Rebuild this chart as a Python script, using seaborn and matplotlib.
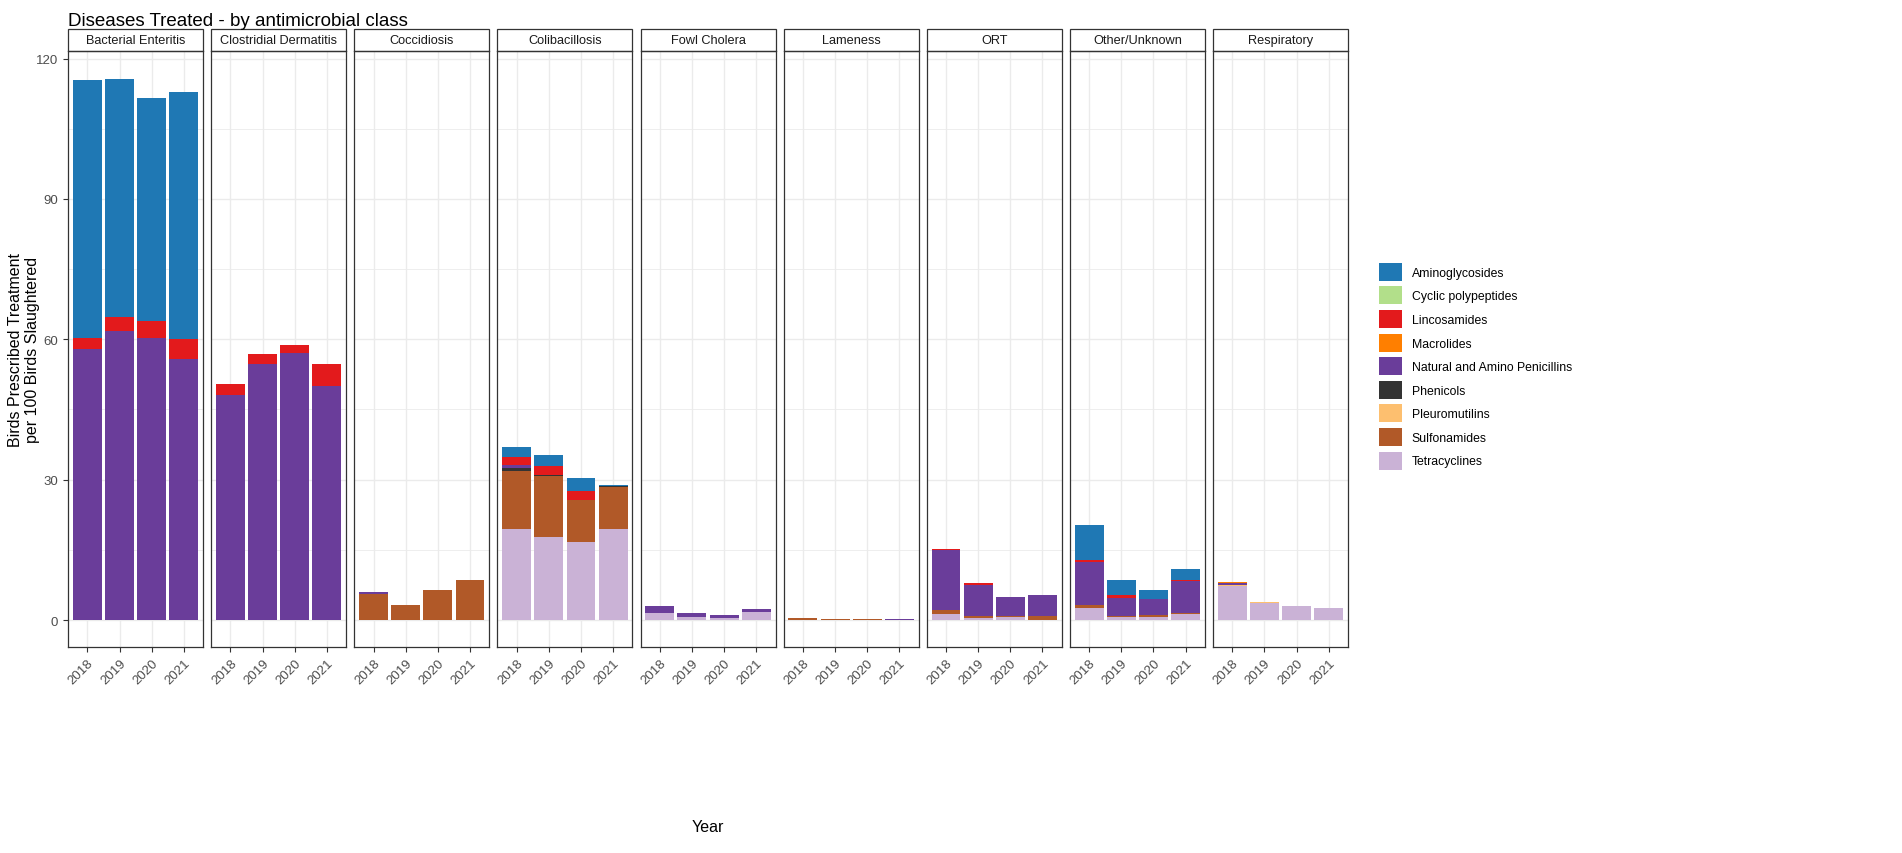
import pandas as pd
import numpy as np
import matplotlib
matplotlib.use("Agg")
import matplotlib.pyplot as plt
from matplotlib.patches import Rectangle, Patch
import seaborn as sns

# ---- data ----
years = [2018, 2019, 2020, 2021]
classes = ['Aminoglycosides', 'Cyclic polypeptides', 'Lincosamides', 'Macrolides',
           'Natural and Amino Penicillins', 'Phenicols', 'Pleuromutilins',
           'Sulfonamides', 'Tetracyclines']
class_colors = ['#1f78b4', '#b2df8a', '#e31a1c', '#ff7f00', '#6a3d9a',
                '#333333', '#fdbf6f', '#b15928', '#cab2d6']
diseases = ['Bacterial Enteritis', 'Clostridial Dermatitis', 'Coccidiosis',
            'Colibacillosis', 'Fowl Cholera', 'Lameness', 'ORT',
            'Other/Unknown', 'Respiratory']

bacterial_enteritis = {
    'Natural and Amino Penicillins': [57.9, 61.7, 60.2, 55.7],
    'Lincosamides': [2.3, 3.0, 3.7, 4.3],
    'Aminoglycosides': [55.3, 51.0, 47.7, 52.8],
}
clostridial_dermatitis = {
    'Natural and Amino Penicillins': [48.0, 54.8, 57.0, 50.0],
    'Lincosamides': [2.5, 2.0, 1.8, 4.8],
}
coccidiosis = {
    'Sulfonamides': [5.6, 3.3, 6.4, 8.6],
    'Natural and Amino Penicillins': [0.3, 0, 0, 0],
}
colibacillosis = {
    'Tetracyclines': [19.5, 17.8, 16.7, 19.5],
    'Sulfonamides': [12.4, 12.9, 8.9, 9.0],
    'Phenicols': [0.6, 0.3, 0, 0.1],
    'Natural and Amino Penicillins': [0.7, 0, 0, 0],
    'Lincosamides': [1.6, 1.9, 2.0, 0],
    'Aminoglycosides': [2.2, 2.3, 2.8, 0.3],
}
fowl_cholera = {
    'Tetracyclines': [1.4, 0.7, 0.4, 1.7],
    'Natural and Amino Penicillins': [1.5, 0.7, 0.6, 0.6],
}
lameness = {
    'Sulfonamides': [0.5, 0.2, 0.2, 0],
    'Natural and Amino Penicillins': [0, 0.1, 0.1, 0.15],
}
ort = {
    'Tetracyclines': [1.3, 0.5, 0.6, 0],
    'Sulfonamides': [0.8, 0.3, 0.2, 0.8],
    'Natural and Amino Penicillins': [12.8, 6.7, 4.1, 4.5],
    'Lincosamides': [0.2, 0.4, 0, 0],
}
other_unknown = {
    'Tetracyclines': [2.6, 0.7, 0.6, 1.3],
    'Sulfonamides': [0.6, 0.2, 0.4, 0.3],
    'Natural and Amino Penicillins': [9.3, 3.8, 3.4, 6.8],
    'Lincosamides': [0.4, 0.6, 0, 0.1],
    'Aminoglycosides': [7.5, 3.3, 2.1, 2.5],
}
respiratory = {
    'Tetracyclines': [7.2, 3.7, 2.9, 2.6],
    'Pleuromutilins': [0.3, 0.2, 0, 0],
    'Natural and Amino Penicillins': [0.4, 0, 0.2, 0],
    'Macrolides': [0.15, 0, 0, 0],
}
disease_data = [bacterial_enteritis, clostridial_dermatitis, coccidiosis,
                colibacillosis, fowl_cholera, lameness, ort, other_unknown,
                respiratory]

# long table
rows = []
for dis, d in zip(diseases, disease_data):
    for cls, vals in d.items():
        for yr, v in zip(years, vals):
            rows.append({'Disease': dis, 'Class': cls, 'Year': yr, 'Value': v})
df = pd.DataFrame(rows)

palette = dict(zip(classes, class_colors))

plt.rcParams['font.family'] = ['Liberation Sans', 'DejaVu Sans']

fig, axes = plt.subplots(1, 9, figsize=(19.02, 8.54), dpi=100, sharey=True)
fig.subplots_adjust(left=0.0358, right=0.7087, top=0.939, bottom=0.241, wspace=0.06)

for ax, dis in zip(axes, diseases):
    sub = df[df['Disease'] == dis]
    hue_order = [c for c in classes if c in sub['Class'].unique()]
    sns.histplot(data=sub, x='Year', weights='Value', hue='Class',
                 hue_order=hue_order, palette=palette, multiple='stack',
                 discrete=True, shrink=0.9, alpha=1, linewidth=0,
                 legend=False, ax=ax, zorder=3)
    ax.set_xlim(2017.4, 2021.6)
    ax.set_ylim(-5.8, 121.6)
    ax.set_xticks(years)
    ax.set_xticklabels([str(y) for y in years], rotation=45, ha='right',
                       rotation_mode='anchor', fontsize=9, color='#4d4d4d')
    ax.set_yticks([0, 30, 60, 90, 120])
    ax.set_yticks([15, 45, 75, 105], minor=True)
    ax.grid(True, which='major', color='#ebebeb', linewidth=1.0, zorder=0)
    ax.grid(True, which='minor', axis='y', color='#ebebeb', linewidth=0.6, zorder=0)
    ax.set_axisbelow(True)
    ax.tick_params(axis='both', which='major', length=3.5, width=0.8,
                   color='#333333', labelcolor='#4d4d4d', labelsize=9.5)
    ax.tick_params(axis='y', which='minor', length=0)
    for s in ax.spines.values():
        s.set_color('#333333')
        s.set_linewidth(0.9)
    ax.set_xlabel('')
    ax.set_ylabel('')
    # facet strip
    strip_h = 22 / 596
    ax.add_patch(Rectangle((0, 1), 1, strip_h, transform=ax.transAxes,
                           facecolor='white', edgecolor='#333333',
                           linewidth=0.9, clip_on=False))
    ax.text(0.5, 1 + strip_h / 2, dis, transform=ax.transAxes,
            ha='center', va='center', fontsize=9.2, color='#1a1a1a')

for ax in axes[1:]:
    ax.tick_params(axis='y', which='both', left=False, labelleft=False)

fig.text(0.0125, 0.59, 'Birds Prescribed Treatment\nper 100 Birds Slaughtered',
         rotation=90, ha='center', va='center', fontsize=11.5,
         multialignment='center')
fig.text(0.3722, 0.022, 'Year', ha='center', va='bottom', fontsize=11.5)
fig.text(0.0358, 0.975, 'Diseases Treated - by antimicrobial class',
         ha='left', va='center', fontsize=13.5)

handles = [Patch(facecolor=c, edgecolor='none') for c in class_colors]
fig.legend(handles, classes, loc='center left', bbox_to_anchor=(0.719, 0.57),
           frameon=False, fontsize=8.8, handlelength=1.9, handleheight=1.9,
           labelspacing=0.45, handletextpad=0.8)

fig.savefig('out.png', dpi=100)
